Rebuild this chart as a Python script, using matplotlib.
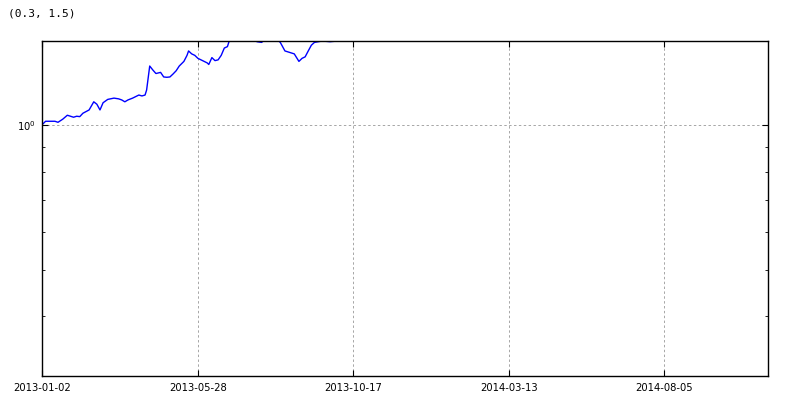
import matplotlib
matplotlib.use("Agg")
import matplotlib.pyplot as plt
from matplotlib.ticker import NullFormatter

# trading-day index and cumulative value
day_idx = [0, 2, 5, 8, 10, 13, 16, 18, 20, 22, 24, 26, 30, 33, 35, 37, 39, 42,
           46, 49, 51, 53, 55, 58, 62, 64, 66, 67, 69, 71, 73, 76, 78, 80, 82,
           84, 86, 88, 91, 93, 94, 96, 98, 100, 103, 106, 107, 109, 111, 113,
           115, 117, 119, 120, 124, 130, 136, 138, 141, 143, 146, 150, 153,
           156, 159, 162, 165, 167, 169, 171, 173, 175, 180, 185, 190, 194,
           200, 220, 260, 300, 350, 400, 467]
value = [1.005, 1.02, 1.02, 1.02, 1.015, 1.03, 1.05, 1.045, 1.04, 1.045, 1.043,
         1.06, 1.077, 1.12, 1.107, 1.077, 1.115, 1.133, 1.14, 1.136, 1.13, 1.12,
         1.13, 1.14, 1.157, 1.152, 1.157, 1.185, 1.33, 1.305, 1.283, 1.29,
         1.262, 1.26, 1.262, 1.28, 1.30, 1.33, 1.36, 1.40, 1.43, 1.41, 1.40,
         1.38, 1.365, 1.35, 1.34, 1.385, 1.365, 1.37, 1.40, 1.45, 1.46, 1.495,
         1.54, 1.56, 1.51, 1.495, 1.49, 1.51, 1.53, 1.52, 1.49, 1.43, 1.42,
         1.41, 1.36, 1.38, 1.39, 1.43, 1.47, 1.49, 1.50, 1.495, 1.50, 1.50,
         1.56, 1.7, 1.8, 1.9, 2.0, 2.1, 2.2]

tick_pos = [0, 100, 200, 300, 400]
tick_dates = ['2013-01-02', '2013-05-28', '2013-10-17', '2014-03-13', '2014-08-05']
ylims = (0.3, 1.5)
x_end = 467

fig = plt.figure(figsize=(8.09, 3.98), dpi=100)
ax = fig.add_axes([0.0525, 0.0553, 0.8972, 0.8417])

ax.plot(day_idx, value, color='#0000ff', lw=1.0)
ax.set_yscale('log')
ax.set_ylim(*ylims)
ax.set_xlim(0, x_end)
ax.yaxis.set_minor_formatter(NullFormatter())

ax.set_xticks(tick_pos)
ax.set_xticklabels(tick_dates)
ax.tick_params(which='both', direction='in', top=True, right=True, labelsize=7.2, pad=5)
ax.tick_params(which='major', length=4)
ax.tick_params(which='minor', length=2)
ax.grid(True, which='major', color='0.65', linestyle=(0, (2.5, 2.5)), lw=0.7)
for s in ax.spines.values():
    s.set_linewidth(1.0)

fig.text(0.01, 0.965, str(ylims), family='DejaVu Sans Mono', fontsize=8, va='center')

fig.savefig('out.png', dpi=100, facecolor='white')
